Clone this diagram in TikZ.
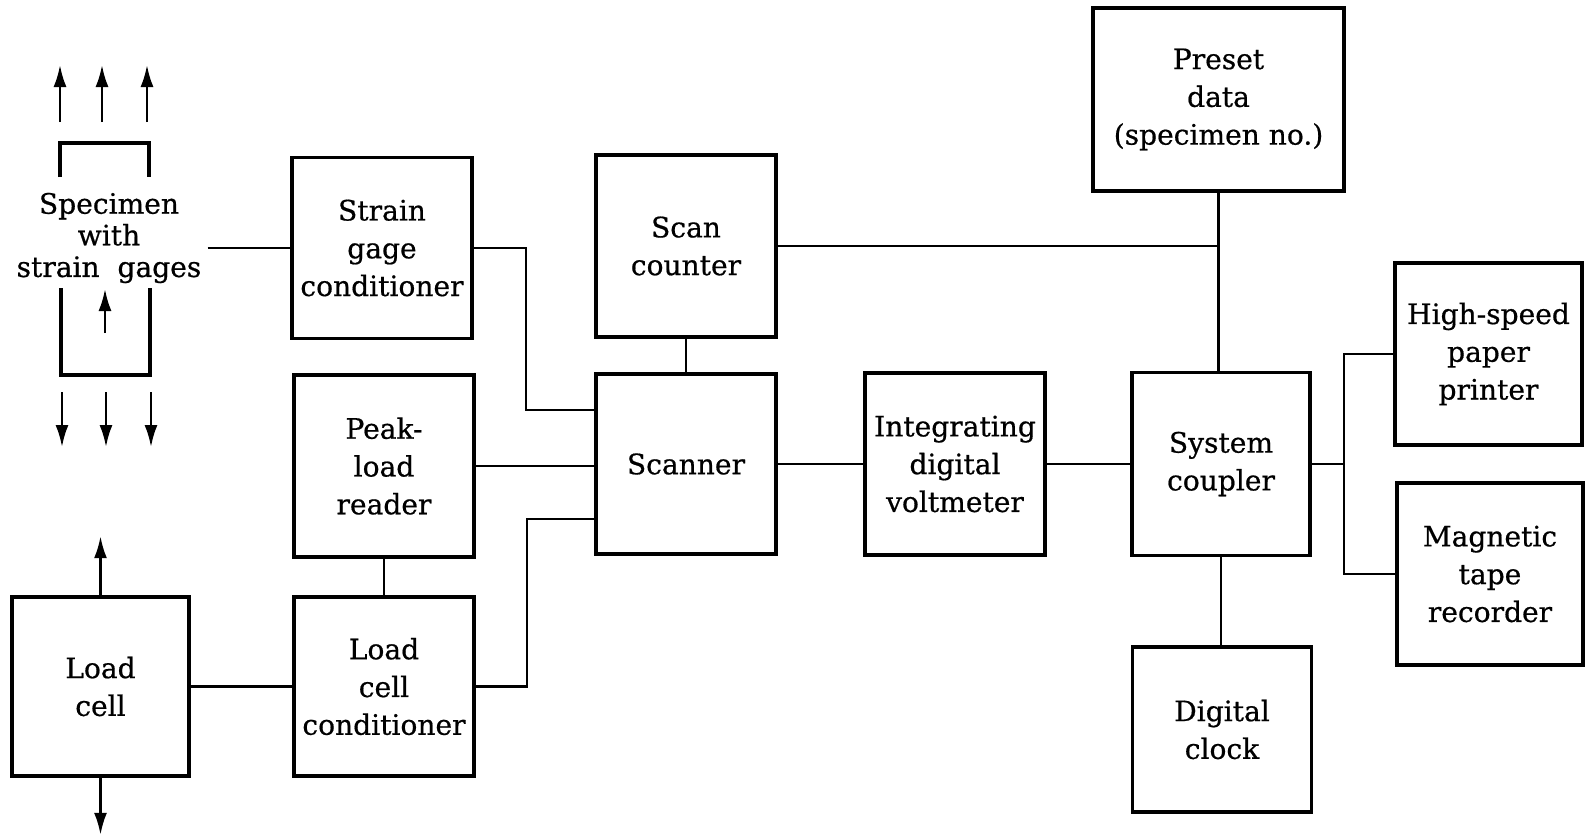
\documentclass[tikz,border=0pt]{standalone}
\usepackage{fontspec}
\newfontfamily\boxfont[FakeBold=0.6]{DejaVu Serif}
\usetikzlibrary{arrows.meta}
\tikzset{>={Latex[length=4.4mm,width=2.6mm]}}

\begin{document}
\begin{tikzpicture}[x=0.02cm,y=-0.02cm,
    blk/.style={draw,line width=2pt,align=center,inner sep=0pt,
                font=\boxfont\fontsize{16}{21.5}\selectfont},
    wire/.style={line width=1.2pt},
    pull/.style={->,line width=1.4pt}]
  
  % USER SETTINGS
  \def\px{0.02cm} % one pixel of the reference
  
  % HELP FUNCTION
  \def\unit(#1,#2,#3,#4,#5)#6{ % name, x, y, width, height, text
    \node[blk,minimum width=#4*\px,minimum height=#5*\px] (#1) at (#2,#3) {#6};
  }
  
  \useasboundingbox (0,0) rectangle (1586,836);
  
  % BOXES
  \unit(strainCond,382,248,180,181){Strain\\gage\\conditioner}
  \unit(peakRead,384,466,180,182){Peak-\\load\\reader}
  \unit(loadCond,384,686.5,180,179){Load\\cell\\conditioner}
  \unit(loadCell,100.5,686.5,177,179){Load\\cell}
  \unit(scanCount,686,246,180,182){Scan\\counter}
  \unit(scanner,686,464,180,180){Scanner}
  \unit(voltMeter,955,464,180,182){Integrating\\digital\\voltmeter}
  \unit(sysCoupler,1221,464,178,183){System\\coupler}
  \unit(presetData,1218.5,99.5,251,183){Preset\\data\\(specimen no.)}
  \unit(digClock,1222,729.5,179,165){Digital\\clock}
  \unit(hsPrinter,1488.5,354,187,182){High-speed\\paper\\printer}
  \unit(tapeRec,1490,574,186,182){Magnetic\\tape\\recorder}
  
  % SPECIMEN
  \node[align=center,font=\boxfont\fontsize{16}{18}\selectfont]
    (specimen) at (109,238) {Specimen\\with\\strain\ \ gages};
  \draw[line width=2pt] (60,177) |- (149,143) -- (149,177);
  \draw[line width=2pt] (61,288) |- (150,375) -- (150,288);
  \foreach \x in {60,102,147} \draw[pull] (\x,122) -- (\x,65);   % tension
  \foreach \x in {62,106,151} \draw[pull] (\x,392) -- (\x,447);
  \draw[pull] (105,333) -- (105,289);
  \draw[pull] (loadCell.north) -- ++(0,-59);
  \draw[pull] (loadCell.south) -- ++(0,57);
  
  % WIRES
  \draw[wire] (specimen.east |- strainCond.west) -- (strainCond.west);
  \draw[wire] (strainCond.east) -| (526,410) -- (scanner.west |- 0,410);
  \draw[wire] (peakRead.east) -- (scanner.west |- peakRead.east);
  \draw[wire] (loadCond.east) -| (527,519) -- (scanner.west |- 0,519);
  \draw[wire] (loadCell) -- (loadCond);
  \draw[wire] (peakRead) -- (loadCond);
  \draw[wire] (scanCount) -- (scanner);
  \draw[wire] (scanner) -- (voltMeter);
  \draw[wire] (voltMeter) -- (sysCoupler);
  \draw[wire] (presetData.south) -- (presetData.south |- sysCoupler.north);
  \draw[wire] (scanCount.east) -- (scanCount.east -| presetData.south);
  \draw[wire] (sysCoupler.south) -- (sysCoupler.south |- digClock.north);
  
  % OUTPUT BUS
  \coordinate (busR) at (1344,464);
  \draw[wire] (sysCoupler.east) -- (busR);
  \draw[wire] (hsPrinter.west) -| (busR) |- (tapeRec.west);
  
\end{tikzpicture}
\end{document}
